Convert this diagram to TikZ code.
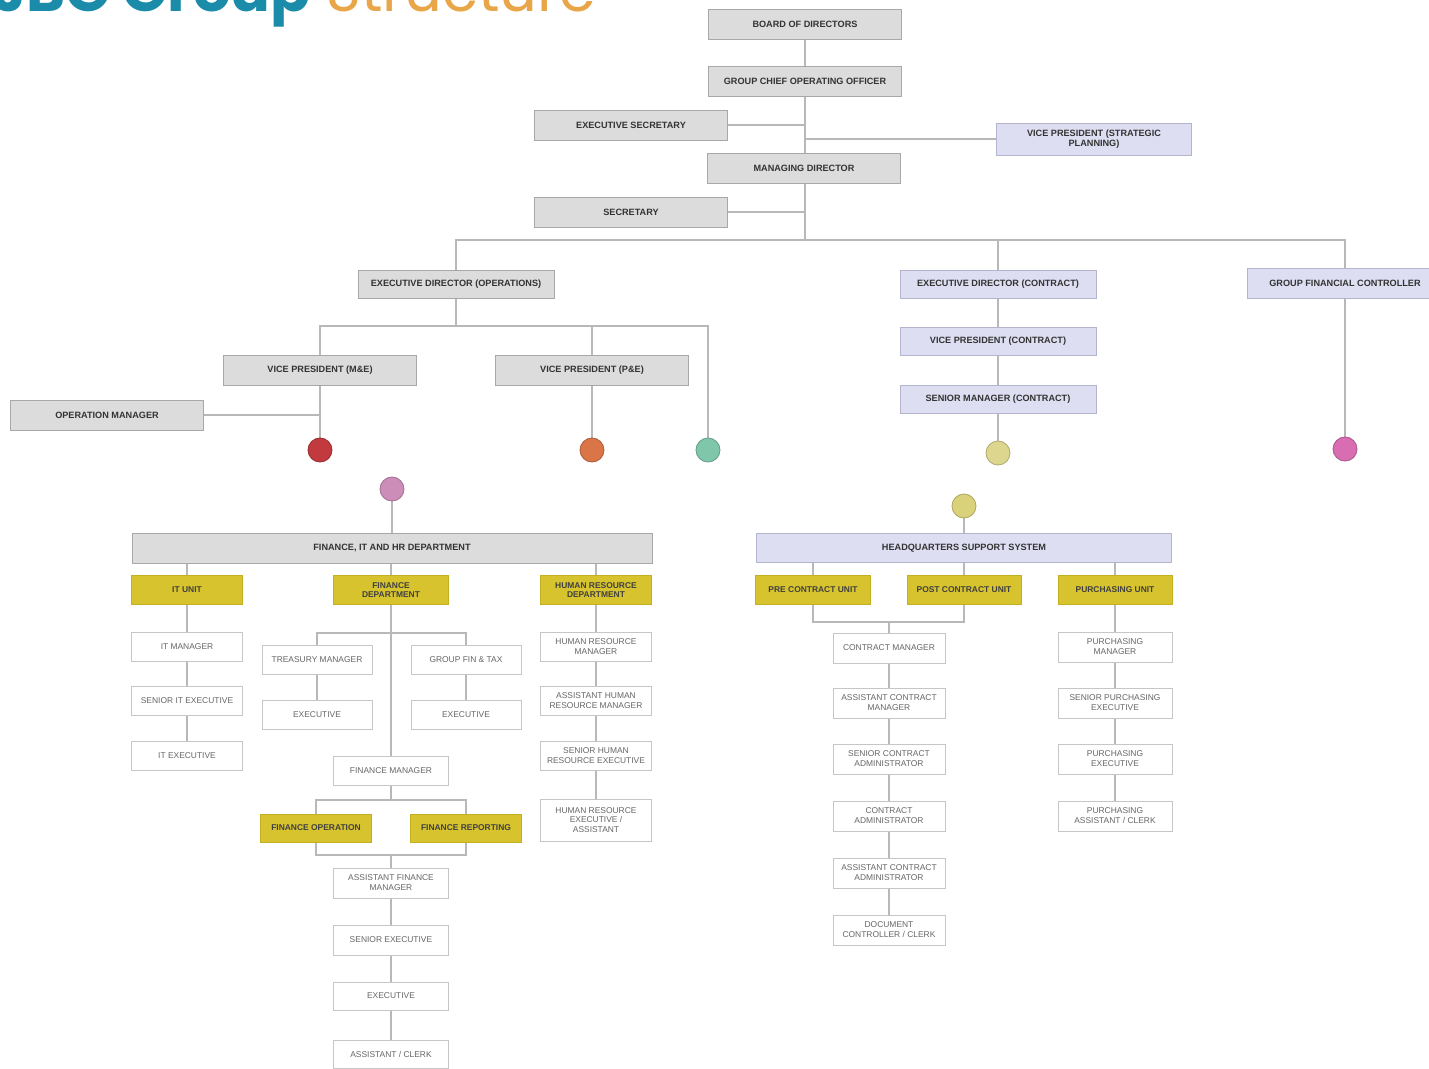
\documentclass[tikz,border=0pt]{standalone}
\usepackage{fontspec}
\setmainfont{Liberation Sans}
\newfontfamily\titlefont{Poppins}
\usetikzlibrary{backgrounds}
\definecolor{boxgray}{HTML}{DCDCDC}
\definecolor{boxgrayline}{HTML}{A8A8A8}
\definecolor{lav}{HTML}{DEDEF2}
\definecolor{lavline}{HTML}{B4B4CC}
\definecolor{unity}{HTML}{D7C32E}
\definecolor{unitline}{HTML}{C4AE22}
\definecolor{linegray}{HTML}{B8B8B8}
\definecolor{titleteal}{HTML}{1A8CAA}
\definecolor{titlegold}{HTML}{E9A649}
\definecolor{cred}{HTML}{C23A3E}
\definecolor{cpinkc}{HTML}{CC8DB8}
\definecolor{corange}{HTML}{DA7548}
\definecolor{cteal}{HTML}{80C6AA}
\definecolor{cyel}{HTML}{DCD68E}
\definecolor{colive}{HTML}{D9D27A}
\definecolor{cmag}{HTML}{D86DB2}
\tikzset{
  topbox/.style={draw=boxgrayline, fill=boxgray, line width=0.6pt, minimum width=4.825cm, minimum height=0.75cm,
    font=\fontsize{6.5}{7.5}\selectfont\bfseries, text=black!80, inner sep=1pt, align=center},
  lavbox/.style={topbox, draw=lavline, fill=lav},
  unitbox/.style={draw=unitline, fill=unity, line width=0.5pt, minimum width=2.775cm, minimum height=0.725cm,
    font=\fontsize{6}{7}\selectfont\bfseries, text=black!75, inner sep=1pt, align=center},
  posbox/.style={draw=gray!45, fill=white, line width=0.5pt, minimum width=2.775cm, minimum height=0.725cm,
    font=\fontsize{6}{7}\selectfont, text=black!60, inner sep=1pt, align=center},
  dot/.style={circle, minimum size=0.6cm, inner sep=0pt, line width=0.6pt, draw=#1!80!black, fill=#1},
  conn/.style={draw=linegray, line width=0.8pt}
}
\begin{document}
\begin{tikzpicture}[x=0.025cm, y=-0.025cm]
\path[use as bounding box] (0,0) rectangle (1429,1068);

% title
\node[anchor=base west, inner sep=0pt, font=\titlefont\fontsize{42}{42}\selectfont] (title) at (-8,11)
  {\textcolor{titleteal}{\bfseries JBG Group} \textcolor{titlegold}{Structure}};

% top
\node[topbox] (bod) at (805,24) {BOARD OF DIRECTORS};
\node[topbox] (coo) at (805,81) {GROUP CHIEF OPERATING OFFICER};
\node[topbox] (es)  at (631,125) {EXECUTIVE SECRETARY};
\node[lavbox, minimum width=4.875cm, minimum height=0.8cm] (vps) at (1094,139) {VICE PRESIDENT (STRATEGIC\\PLANNING)};
\node[topbox] (md)  at (804,168) {MANAGING DIRECTOR};
\node[topbox] (sec) at (631,212) {SECRETARY};
\coordinate (j0) at (805,240);

% second level
\node[topbox, minimum width=4.9cm, minimum height=0.7cm] (edo) at (456,284) {EXECUTIVE DIRECTOR (OPERATIONS)};
\node[lavbox, minimum width=4.9cm, minimum height=0.7cm] (edc) at (998,284) {EXECUTIVE DIRECTOR (CONTRACT)};
\node[lavbox, minimum width=4.9cm, minimum height=0.75cm] (gfc) at (1345,283) {GROUP FINANCIAL CONTROLLER};

% operations
\coordinate (j1) at (456,326);
\node[topbox] (vpm) at (320,370) {VICE PRESIDENT (M\&E)};
\node[topbox] (vpp) at (592,370) {VICE PRESIDENT (P\&E)};
\node[topbox] (om)  at (107,415) {OPERATION MANAGER};

% contract
\node[lavbox, minimum width=4.9cm, minimum height=0.7cm] (vpc) at (998,341) {VICE PRESIDENT (CONTRACT)};
\node[lavbox, minimum width=4.9cm, minimum height=0.7cm] (smc) at (998,399) {SENIOR MANAGER (CONTRACT)};

% circles
\node[dot=cred]    (d1) at (320,450) {};
\node[dot=corange] (d2) at (592,450) {};
\node[dot=cteal]   (d3) at (708,450) {};
\node[dot=cyel]    (d4) at (998,453) {};
\node[dot=cmag]    (d5) at (1345,449) {};
\node[dot=cpinkc]  (d6) at (392,489) {};
\node[dot=colive]  (d7) at (964,506) {};

% finance, IT and HR
\node[topbox, minimum width=13cm] (fih) at (392,548) {FINANCE, IT AND HR DEPARTMENT};
\node[unitbox] (itu) at (187,590) {IT UNIT};
\node[unitbox, minimum width=2.875cm] (fd) at (391,590) {FINANCE\\DEPARTMENT};
\node[unitbox] (hrd) at (596,590) {HUMAN RESOURCE\\DEPARTMENT};

\node[posbox] (itm)  at (187,647) {IT MANAGER};
\node[posbox] (site) at (187,701) {SENIOR IT EXECUTIVE};
\node[posbox] (ite)  at (187,756) {IT EXECUTIVE};

\coordinate (j2) at (391,633);
\node[posbox, minimum width=2.75cm] (trm) at (317,660) {TREASURY MANAGER};
\node[posbox, minimum width=2.75cm] (tre) at (317,715) {EXECUTIVE};
\node[posbox, minimum width=2.75cm] (gft) at (466,660) {GROUP FIN \& TAX};
\node[posbox, minimum width=2.75cm] (gfe) at (466,715) {EXECUTIVE};
\node[posbox, minimum width=2.875cm] (fm) at (391,771) {FINANCE MANAGER};
\coordinate (j3) at (391,800);
\node[unitbox, minimum width=2.775cm, minimum height=0.7cm] (fo) at (316,828) {FINANCE OPERATION};
\node[unitbox, minimum width=2.775cm, minimum height=0.7cm] (fr) at (466,828) {FINANCE REPORTING};
\coordinate (j4) at (391,855);
\node[posbox, minimum width=2.875cm, minimum height=0.75cm] (afm) at (391,883) {ASSISTANT FINANCE\\MANAGER};
\node[posbox, minimum width=2.875cm, minimum height=0.75cm] (fse) at (391,940) {SENIOR EXECUTIVE};
\node[posbox, minimum width=2.875cm, minimum height=0.7cm]  (fex) at (391,996) {EXECUTIVE};
\node[posbox, minimum width=2.875cm, minimum height=0.7cm]  (fac) at (391,1054) {ASSISTANT / CLERK};

\node[posbox] (hrm)  at (596,647) {HUMAN RESOURCE\\MANAGER};
\node[posbox] (ahrm) at (596,701) {ASSISTANT HUMAN\\RESOURCE MANAGER};
\node[posbox] (shre) at (596,756) {SENIOR HUMAN\\RESOURCE EXECUTIVE};
\node[posbox, minimum height=1.05cm] (hrea) at (596,820) {HUMAN RESOURCE\\EXECUTIVE /\\ASSISTANT};

% headquarters support system
\node[lavbox, minimum width=10.375cm, minimum height=0.725cm] (hqs) at (964,548) {HEADQUARTERS SUPPORT SYSTEM};
\node[unitbox, minimum width=2.875cm] (pcu) at (813,590) {PRE CONTRACT UNIT};
\node[unitbox, minimum width=2.85cm] (pocu) at (964,590) {POST CONTRACT UNIT};
\node[unitbox, minimum width=2.85cm] (pu) at (1115,590) {PURCHASING UNIT};
\coordinate (j5) at (889,622);

\node[posbox, minimum width=2.8cm, minimum height=0.75cm] (cm)   at (889,648) {CONTRACT MANAGER};
\node[posbox, minimum width=2.8cm, minimum height=0.75cm] (acm)  at (889,703) {ASSISTANT CONTRACT\\MANAGER};
\node[posbox, minimum width=2.8cm, minimum height=0.75cm] (sca)  at (889,759) {SENIOR CONTRACT\\ADMINISTRATOR};
\node[posbox, minimum width=2.8cm, minimum height=0.75cm] (ca)   at (889,816) {CONTRACT\\ADMINISTRATOR};
\node[posbox, minimum width=2.8cm, minimum height=0.75cm] (aca)  at (889,873) {ASSISTANT CONTRACT\\ADMINISTRATOR};
\node[posbox, minimum width=2.8cm, minimum height=0.75cm] (dcc)  at (889,930) {DOCUMENT\\CONTROLLER / CLERK};

\node[posbox, minimum width=2.85cm, minimum height=0.75cm] (pm)  at (1115,647) {PURCHASING\\MANAGER};
\node[posbox, minimum width=2.85cm, minimum height=0.75cm] (spe) at (1115,703) {SENIOR PURCHASING\\EXECUTIVE};
\node[posbox, minimum width=2.85cm, minimum height=0.75cm] (pe)  at (1115,759) {PURCHASING\\EXECUTIVE};
\node[posbox, minimum width=2.85cm, minimum height=0.75cm] (pac) at (1115,816) {PURCHASING\\ASSISTANT / CLERK};

\begin{scope}[on background layer]
\fill[white] (0,0) rectangle (1429,1068);
% top trunk
\draw[conn] (bod.south) -- (j0);
\draw[conn] (es.east) -- (es.east -| bod.south);
\draw[conn] (vps.west) -- (vps.west -| bod.south);
\draw[conn] (sec.east) -- (sec.east -| bod.south);
\draw[conn] (edo.north) |- (j0);
\draw[conn] (edc.north) |- (j0);
\draw[conn] (gfc.north) |- (j0);
% operations
\draw[conn] (edo.south) -- (j1);
\draw[conn] (vpm.north) |- (j1);
\draw[conn] (vpp.north) |- (j1);
\draw[conn] (d3.north) |- (j1);
\draw[conn] (vpm.south) -- (d1.north);
\draw[conn] (om.east) -- (om.east -| vpm.south);
\draw[conn] (vpp.south) -- (d2.north);
% contract
\draw[conn] (edc.south) -- (d4.north);
\draw[conn] (gfc.south) -- (d5.north);
% lower connectors
\draw[conn] (d6.south) -- (fih.north);
\draw[conn] (d7.south) -- (hqs.north);
\draw[conn] (itu.north |- fih.south) -- (ite.north);
\draw[conn] (fd.north |- fih.south) -- (fm.north);
\draw[conn] (hrd.north |- fih.south) -- (hrea.north);
\draw[conn] (trm.north) |- (j2);
\draw[conn] (gft.north) |- (j2);
\draw[conn] (trm.south) -- (tre.north);
\draw[conn] (gft.south) -- (gfe.north);
\draw[conn] (fm.south) -- (j3);
\draw[conn] (fo.north) |- (j3);
\draw[conn] (fr.north) |- (j3);
\draw[conn] (fo.south) |- (j4);
\draw[conn] (fr.south) |- (j4);
\draw[conn] (j4) -- (fac.north);
% HQ
\draw[conn] (pcu.north |- hqs.south) -- (pcu.north);
\draw[conn] (pocu.north |- hqs.south) -- (pocu.north);
\draw[conn] (pu.north |- hqs.south) -- (pac.north);
\draw[conn] (pcu.south) |- (j5);
\draw[conn] (pocu.south) |- (j5);
\draw[conn] (j5) -- (dcc.north);
\end{scope}
\end{tikzpicture}
\end{document}
